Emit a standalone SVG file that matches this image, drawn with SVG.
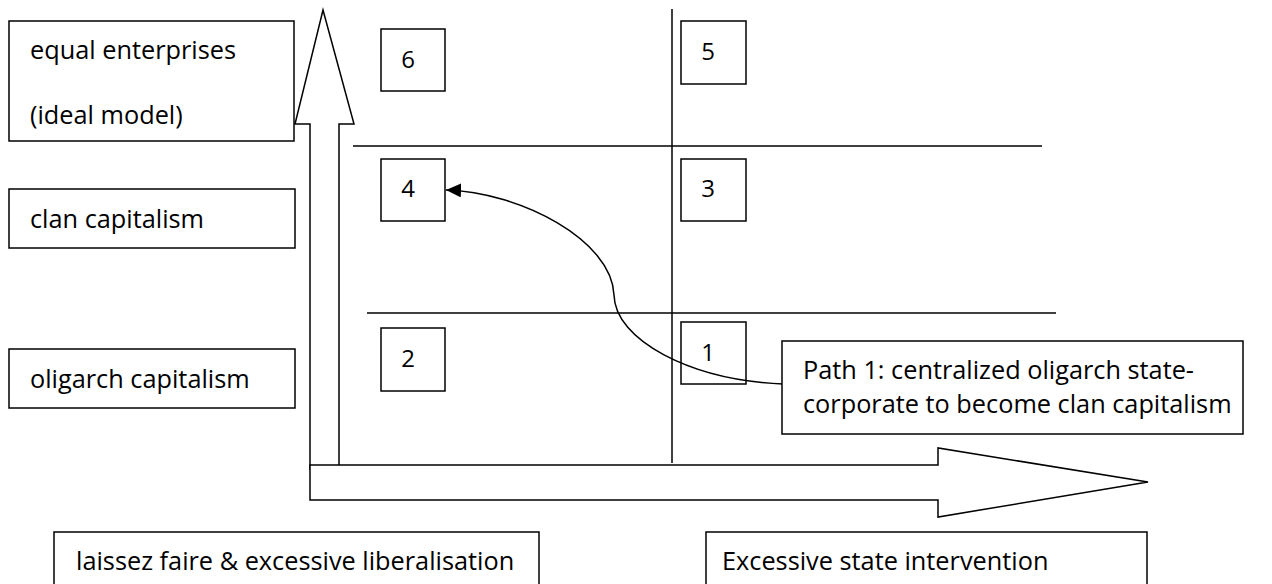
<svg xmlns="http://www.w3.org/2000/svg" width="1272" height="584" viewBox="0 0 1272 584">
  <style>
    .box { fill: #ffffff; stroke: #000000; stroke-width: 1.5; }
    .ln { fill: none; stroke: #000000; stroke-width: 1.5; }
    .big { fill: #ffffff; stroke: #000000; stroke-width: 1.5; stroke-linejoin: miter; }
    .t { font-family: "Open Sans", "Noto Sans", "Liberation Sans", sans-serif; font-size: 25.3px; fill: #000000; }
    .n { font-family: "Open Sans", "Noto Sans", "Liberation Sans", sans-serif; font-size: 24px; fill: #000000; text-anchor: middle; }
  </style>
  <defs>
    <marker id="ah" markerUnits="userSpaceOnUse" markerWidth="16" markerHeight="14" refX="15" refY="7" orient="auto">
      <path d="M0,0 L15,7 L0,14 z" fill="#000000"/>
    </marker>
  </defs>
  <rect width="1272" height="584" fill="#ffffff"/>

  <g id="grid">
    <line class="ln" x1="672" y1="9" x2="672" y2="463"/>
    <line class="ln" x1="353" y1="146" x2="1042" y2="146"/>
    <line class="ln" x1="367" y1="313" x2="1056" y2="313"/>
  </g>

  <g id="axis-vertical">
    <path class="big" d="M310,470 L310,124 L295,124 L323,10 L354,124 L339,124 L339,465"/>
  </g>
  <g id="axis-horizontal">
    <path class="big" d="M310,465 L938,465 L938,448 L1148,482 L938,517 L938,500 L310,500 Z"/>
  </g>

  <g id="label-equal">
    <rect class="box" x="9" y="21" width="285" height="120"/>
    <text class="t" x="30" y="59">equal enterprises</text>
    <text class="t" x="30" y="124">(ideal model)</text>
  </g>
  <g id="label-clan">
    <rect class="box" x="9" y="189" width="286" height="59"/>
    <text class="t" x="30" y="228">clan capitalism</text>
  </g>
  <g id="label-oligarch">
    <rect class="box" x="9" y="349" width="286" height="59"/>
    <text class="t" x="30" y="388">oligarch capitalism</text>
  </g>

  <g id="cell-6">
    <rect class="box" x="381" y="29" width="64" height="62"/>
    <text class="n" x="408" y="68">6</text>
  </g>
  <g id="cell-5">
    <rect class="box" x="681" y="21" width="65" height="63"/>
    <text class="n" x="708" y="60">5</text>
  </g>
  <g id="cell-4">
    <rect class="box" x="381" y="159" width="64" height="62"/>
    <text class="n" x="408" y="197">4</text>
  </g>
  <g id="cell-3">
    <rect class="box" x="681" y="159" width="65" height="62"/>
    <text class="n" x="708" y="197">3</text>
  </g>
  <g id="cell-2">
    <rect class="box" x="381" y="328" width="64" height="63"/>
    <text class="n" x="408" y="367">2</text>
  </g>
  <g id="cell-1">
    <rect class="box" x="681" y="322" width="65" height="62"/>
    <text class="n" x="708" y="361">1</text>
  </g>

  <g id="connectors">
    <path class="ln" d="M783,384 C690,380 615,340 614,295 C612,240 520,192 446,190" marker-end="url(#ah)"/>
  </g>

  <g id="path1-note">
    <rect class="box" x="782" y="341" width="461" height="93"/>
    <text class="t" x="803" y="379">Path 1: centralized oligarch state-</text>
    <text class="t" x="803" y="413">corporate to become clan capitalism</text>
  </g>

  <g id="label-laissez">
    <rect class="box" x="54" y="532" width="485" height="70"/>
    <text class="t" x="76" y="570">laissez faire &amp; excessive liberalisation</text>
  </g>
  <g id="label-state">
    <rect class="box" x="706" y="532" width="441" height="70"/>
    <text class="t" x="722" y="570">Excessive state intervention</text>
  </g>
</svg>
